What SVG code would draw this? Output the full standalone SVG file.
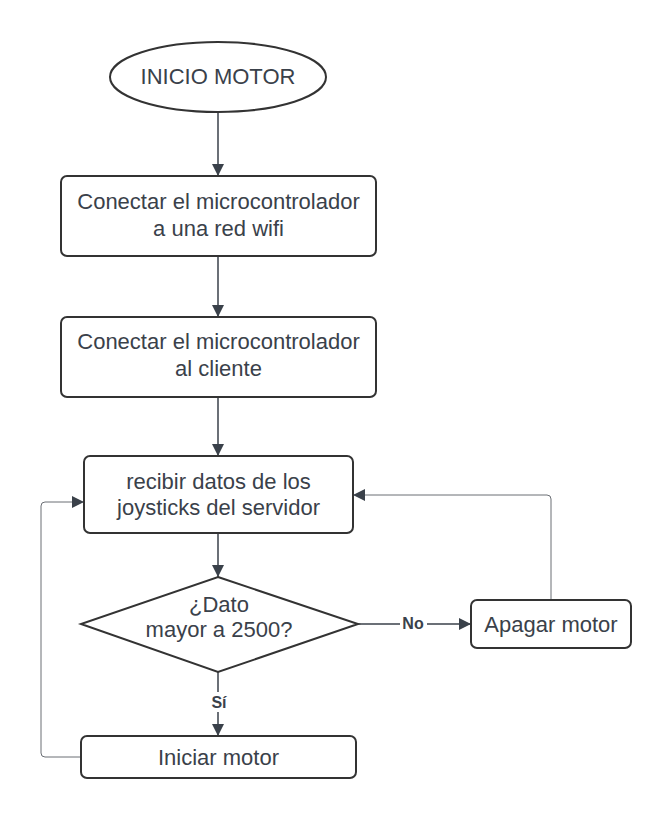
<svg xmlns="http://www.w3.org/2000/svg" width="671" height="819" viewBox="0 0 671 819">
<style>
.node{fill:#fff;stroke:#333;stroke-width:2}
.t{font-family:"Liberation Sans",Arial,sans-serif;font-size:22px;fill:#3a414a;text-anchor:middle}
.lbl{font-family:"Liberation Sans",Arial,sans-serif;font-size:16px;font-weight:bold;fill:#3a414a;text-anchor:middle}
.c{fill:none;stroke:#3a414a;stroke-width:1.5}
.c2{fill:none;stroke:#6b6f75;stroke-width:1}
</style>
<defs>
<marker id="ah" viewBox="0 0 10 10" refX="10" refY="5" markerWidth="12" markerHeight="12" markerUnits="userSpaceOnUse" orient="auto">
<path d="M0,0 L10,5 L0,10 z" fill="#3a414a"/>
</marker>
</defs>
<rect width="671" height="819" fill="#fff"/>
<g id="connectors">
<path class="c" d="M218,112 V176" marker-end="url(#ah)"/>
<path class="c" d="M218,256 V317" marker-end="url(#ah)"/>
<path class="c" d="M218,397 V456" marker-end="url(#ah)"/>
<path class="c" d="M218,533 V577" marker-end="url(#ah)"/>
<path class="c" d="M218,672 V736" marker-end="url(#ah)"/>
<path class="c" d="M358,624 H471" marker-end="url(#ah)"/>
<path class="c2" d="M551,600 V499 Q551,495 547,495 H353" marker-end="url(#ah)"/>
<path class="c2" d="M81,757 H45 Q41,757 41,753 V506 Q41,502 45,502 H84" marker-end="url(#ah)"/>
<rect x="206" y="692" width="24" height="20" fill="#fff"/>
<text class="lbl" x="219" y="708">Sí</text>
<rect x="400" y="614" width="27" height="18" fill="#fff"/>
<text class="lbl" x="413" y="629">No</text>
</g>
<g id="inicio">
<ellipse class="node" cx="218" cy="77" rx="108" ry="35"/>
<text class="t" x="218" y="84">INICIO MOTOR</text>
</g>
<g id="conectar-wifi">
<rect class="node" x="61" y="176" width="315" height="80" rx="6"/>
<text class="t" x="218.5" y="209">Conectar el microcontrolador</text>
<text class="t" x="218.5" y="236">a una red wifi</text>
</g>
<g id="conectar-cliente">
<rect class="node" x="61" y="317" width="315" height="80" rx="6"/>
<text class="t" x="218.5" y="349">Conectar el microcontrolador</text>
<text class="t" x="218.5" y="376">al cliente</text>
</g>
<g id="recibir">
<rect class="node" x="84" y="456" width="269" height="77" rx="6"/>
<text class="t" x="218.5" y="489">recibir datos de los</text>
<text class="t" x="218.5" y="515">joysticks del servidor</text>
</g>
<g id="decision">
<polygon class="node" points="218,577 358,624 218,672 81,624"/>
<text class="t" x="219" y="612">¿Dato</text>
<text class="t" x="219" y="637">mayor a 2500?</text>
</g>
<g id="apagar">
<rect class="node" x="471" y="600" width="160" height="48" rx="6"/>
<text class="t" x="551" y="632">Apagar motor</text>
</g>
<g id="iniciar">
<rect class="node" x="81" y="736" width="275" height="42" rx="6"/>
<text class="t" x="218.5" y="765">Iniciar motor</text>
</g>
</svg>
